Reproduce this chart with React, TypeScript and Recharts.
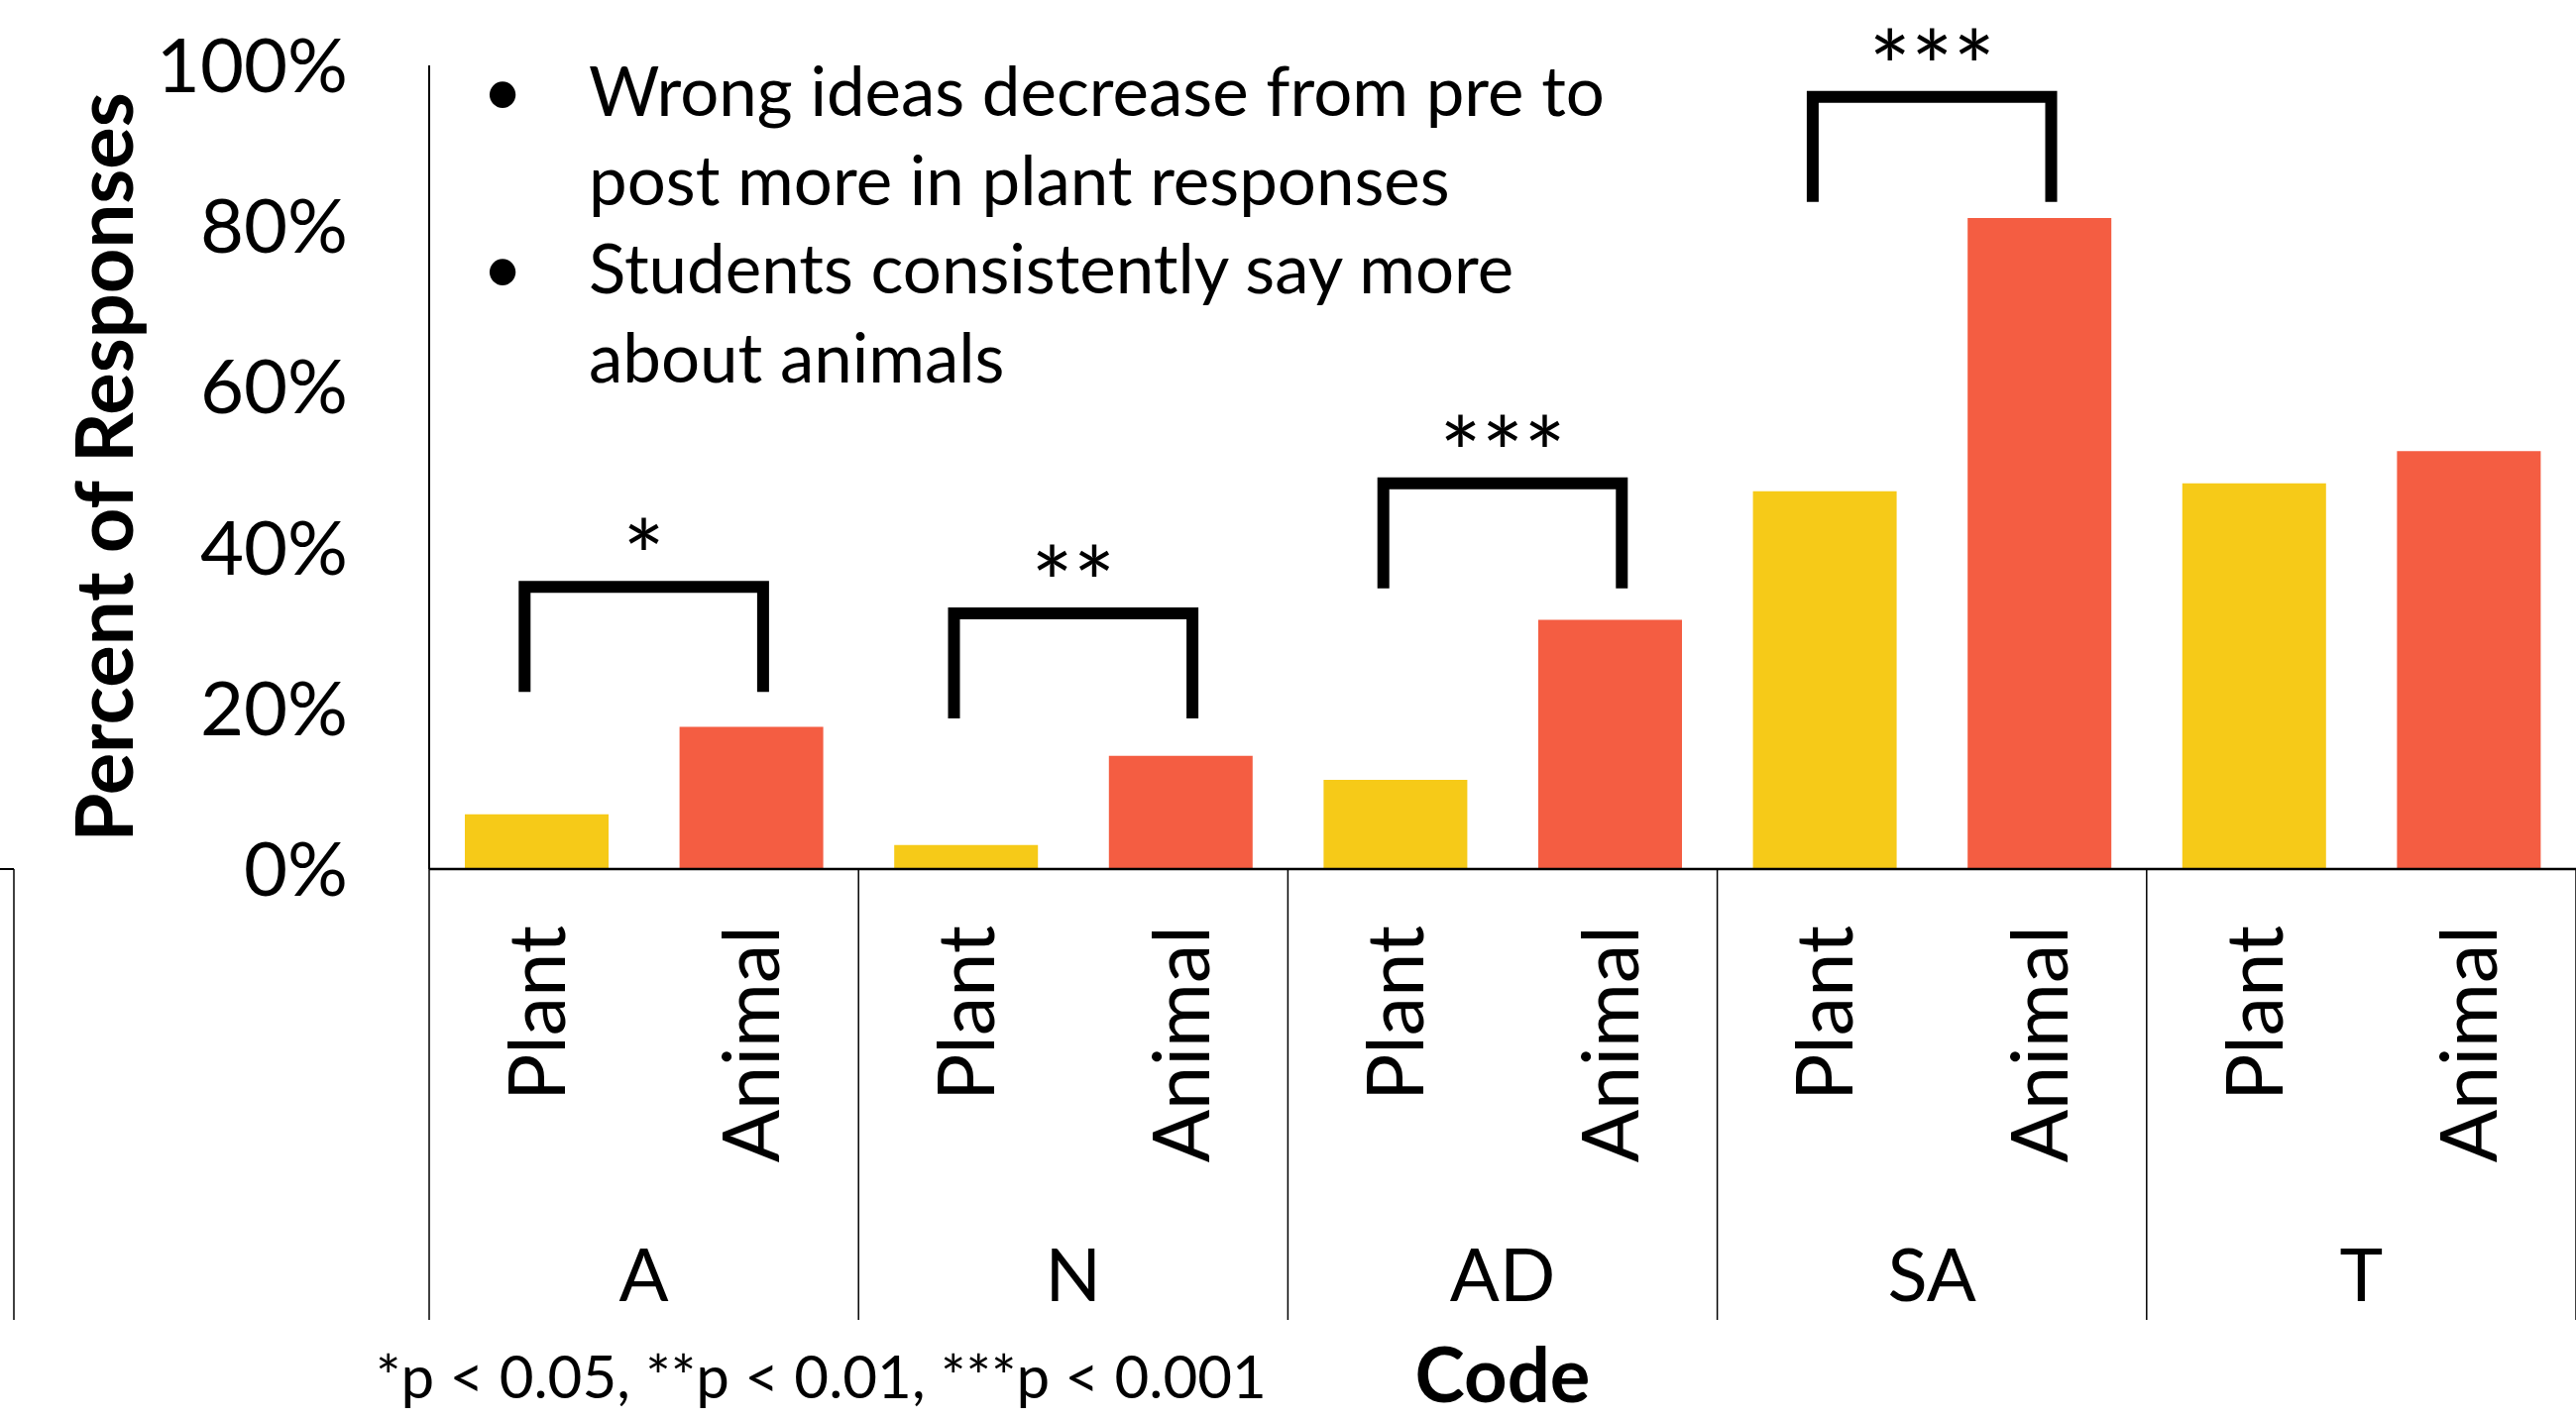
import { BarChart, Bar, XAxis, YAxis, Cell, ReferenceLine } from "recharts";

const groups = ["A", "N", "AD", "SA", "T"];
const plantValues = [6.8, 3.0, 11.1, 47.0, 48.0];
const animalValues = [17.7, 14.1, 31.0, 81.0, 52.0];
const yTicks = [0, 20, 40, 60, 80, 100];

// significance brackets (height of the bracket bar in %)
const sigGroups = ["A", "N", "AD", "SA"];
const sigStars = ["*", "**", "***", "***"];
const sigTops = [35.1, 31.8, 48.0, 96.1];

const bullets = [
  ["Wrong ideas decrease from pre to", "post more in plant responses"],
  ["Students consistently say more", "about animals"],
];
const footnote = "*p < 0.05, **p < 0.01, ***p < 0.001";

const data = groups.flatMap((g, i) => [
  { key: `${g}-Plant`, group: g, kind: "Plant", value: plantValues[i] },
  { key: `${g}-Animal`, group: g, kind: "Animal", value: animalValues[i] },
]);

const W = 2599;
const H = 1432;
const LEFT = 433;
const BAND = (W - LEFT) / data.length;
const FONT = "Lato, sans-serif";
const YELLOW = "#F6CA18";
const RED = "#F45D42";

const renderTick = (props: any) => {
  const { x, y, payload } = props;
  const row = data.find((d) => d.key === payload.value);
  if (!row) return null;
  const idx = data.indexOf(row);
  const ly = y + 57;
  return (
    <g>
      <text
        x={x}
        y={ly}
        transform={`rotate(-90, ${x}, ${ly})`}
        textAnchor="end"
        dy="0.36em"
        fontSize={79}
        fontFamily={FONT}
        fill="#000"
      >
        {row.kind}
      </text>
      {row.kind === "Plant" && (
        <>
          <line x1={x - BAND / 2} x2={x - BAND / 2} y1={y} y2={y + 455} stroke="#000" strokeWidth={1.5} />
          <text x={x + BAND / 2} y={y + 436} textAnchor="middle" fontSize={74} fontFamily={FONT} fill="#000">
            {row.group}
          </text>
        </>
      )}
      {idx === data.length - 1 && (
        <line x1={x + BAND / 2} x2={x + BAND / 2} y1={y} y2={y + 455} stroke="#000" strokeWidth={1.5} />
      )}
      {idx === 0 && (
        <>
          <line x1={0} x2={14} y1={y} y2={y} stroke="#000" strokeWidth={2} />
          <line x1={14} x2={14} y1={y} y2={y + 455} stroke="#000" strokeWidth={1.5} />
        </>
      )}
    </g>
  );
};

const Bracket = (props: any) => {
  const { x1, y1, x2, stars } = props;
  const left = Math.min(x1, x2) - 12;
  const right = Math.max(x1, x2) + 12;
  return (
    <g>
      <path
        d={`M${left},${y1 + 106}V${y1}H${right}V${y1 + 106}`}
        fill="none"
        stroke="#000"
        strokeWidth={12}
      />
      <text x={(left + right) / 2} y={y1 + 7} textAnchor="middle" fontSize={100} fontFamily={FONT} fill="#000">
        {stars}
      </text>
    </g>
  );
};

const YLabel = (props: any) => {
  const vb = props.viewBox;
  const cx = vb.x + 134;
  const cy = vb.y + vb.height / 2;
  return (
    <text
      x={cx}
      y={cy}
      transform={`rotate(-90, ${cx}, ${cy})`}
      textAnchor="middle"
      fontSize={79.5}
      fontWeight="bold"
      fontFamily={FONT}
      fill="#000"
    >
      Percent of Responses
    </text>
  );
};

const XLabel = (props: any) => {
  const vb = props.viewBox;
  return (
    <text
      x={vb.x + vb.width / 2}
      y={vb.y + 538}
      textAnchor="middle"
      fontSize={76}
      fontWeight="bold"
      fontFamily={FONT}
      fill="#000"
    >
      Code
    </text>
  );
};

export default function App() {
  let line = 0;
  return (
    <div style={{ position: "absolute", left: 0, top: 0, width: W, height: H, background: "#fff" }}>
      <BarChart width={W} height={H} data={data} margin={{ top: 66, right: 0, bottom: 0, left: 0 }}>
        <XAxis
          dataKey="key"
          interval={0}
          tickLine={false}
          tickSize={0}
          tickMargin={0}
          height={H - 877}
          axisLine={{ stroke: "#000", strokeWidth: 2.5 }}
          tick={renderTick}
          label={XLabel}
        />
        <YAxis
          width={LEFT}
          domain={[0, 100]}
          ticks={yTicks}
          interval={0}
          tickFormatter={(v) => `${v}%`}
          tickLine={false}
          tickSize={0}
          tickMargin={82}
          axisLine={{ stroke: "#000", strokeWidth: 2 }}
          tick={{ fontSize: 76, fill: "#000", fontFamily: FONT }}
          label={YLabel}
        />
        <Bar dataKey="value" barSize={145} isAnimationActive={false}>
          {data.map((d) => (
            <Cell key={d.key} fill={d.kind === "Plant" ? YELLOW : RED} />
          ))}
        </Bar>
        {sigGroups.map((g, i) => (
          <ReferenceLine
            key={g}
            segment={[
              { x: `${g}-Plant`, y: sigTops[i] },
              { x: `${g}-Animal`, y: sigTops[i] },
            ]}
            ifOverflow="visible"
            shape={(p: any) => <Bracket {...p} stars={sigStars[i]} />}
          />
        ))}
      </BarChart>
      <svg
        width={W}
        height={H}
        style={{ position: "absolute", left: 0, top: 0, pointerEvents: "none" }}
      >
        {bullets.map((b) =>
          b.map((t, j) => {
            const y = 117 + 89.5 * line++;
            return (
              <g key={t}>
                {j === 0 && (
                  <text x={507} y={y} textAnchor="middle" fontSize={71} fontFamily={FONT} fill="#000">
                    •
                  </text>
                )}
                <text x={594} y={y} fontSize={69} fontFamily={FONT} fill="#000">
                  {t}
                </text>
              </g>
            );
          })
        )}
        <text x={379} y={1411} fontSize={60} fontFamily={FONT} fill="#000">
          {footnote}
        </text>
      </svg>
    </div>
  );
}
